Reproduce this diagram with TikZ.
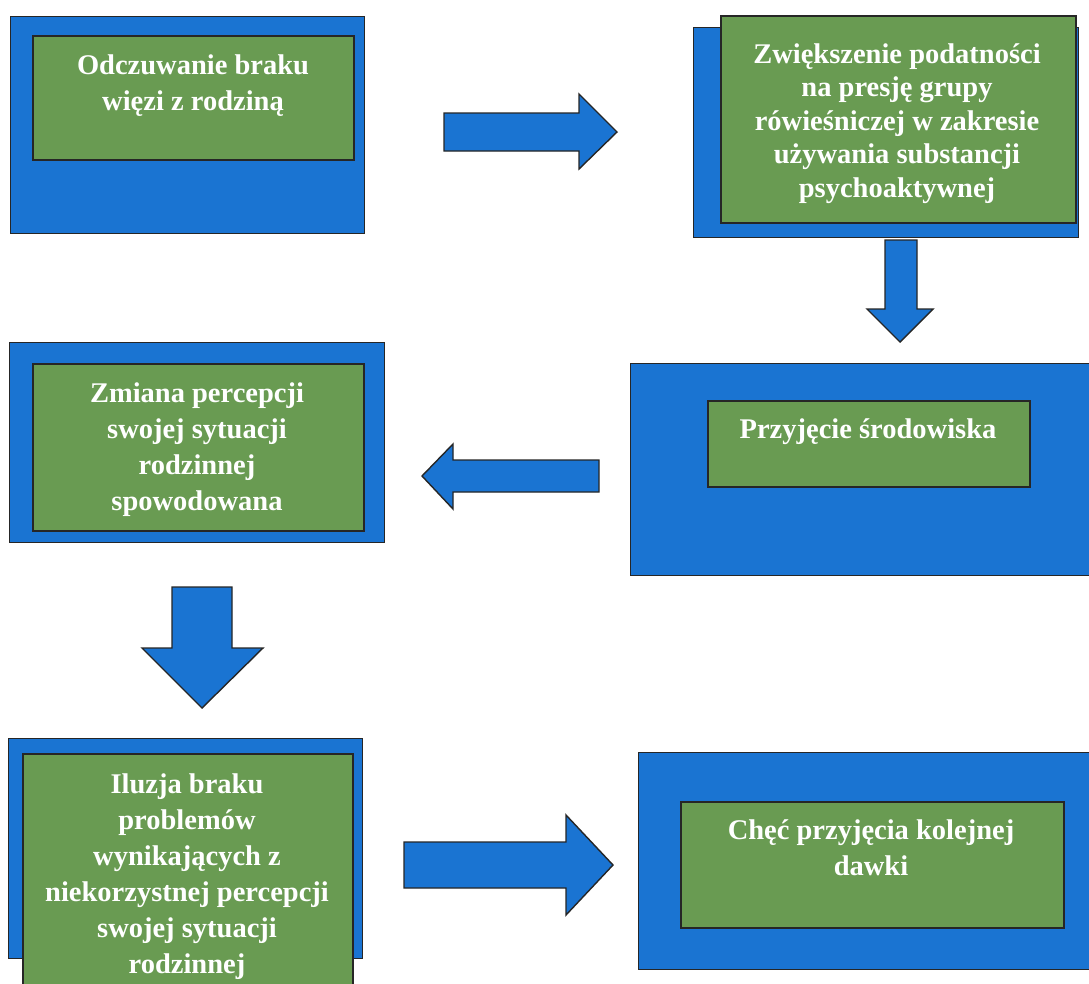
\documentclass[tikz,border=0pt]{standalone}
\usepackage{fontspec}
\setmainfont{Liberation Serif}
\definecolor{boxblue}{RGB}{26,116,210}
\definecolor{boxgreen}{RGB}{105,155,82}
\tikzset{
  outerbox/.style={draw=black!85, line width=1.4pt, fill=boxblue, inner sep=0pt, anchor=north west},
  innerbox/.style={draw=black!85, line width=1.6pt, fill=boxgreen, inner sep=0pt, anchor=north west},
  boxtext/.style={text=white, font=\bfseries\fontsize{28.5}{36}\selectfont, align=center, inner sep=0pt, anchor=base},
  blockarrow/.style={draw=black!85, line width=1.4pt, fill=boxblue, line join=miter},
}
\begin{document}
\begin{tikzpicture}[x=1pt,y=-1pt]
\useasboundingbox (0,0) rectangle (1089,983);
\clip (0,0) rectangle (1089,983);
\fill[white] (0,0) rectangle (1089,983);

% Box 1
\node[outerbox, minimum width=354pt, minimum height=217pt] (o1) at (10,16) {};
\node[innerbox, minimum width=321pt, minimum height=124pt] (i1) at (32,35) {};
\node[boxtext] (t1) at (193,110) {Odczuwanie braku\\więzi z rodziną};

% Box 2
\node[outerbox, minimum width=385pt, minimum height=210pt] (o2) at (693,27) {};
\node[innerbox, minimum width=355pt, minimum height=207pt] (i2) at (720,15) {};
\node[boxtext, font=\bfseries\fontsize{28.5}{33.5}\selectfont] (t2) at (897,197) {Zwiększenie podatności\\na presję grupy\\rówieśniczej w zakresie\\używania substancji\\psychoaktywnej};

% Box 3
\node[outerbox, minimum width=465pt, minimum height=212pt] (o3) at (630,363) {};
\node[innerbox, minimum width=322pt, minimum height=86pt] (i3) at (707,400) {};
\node[boxtext] (t3) at (868,438) {Przyjęcie środowiska};

% Box 4
\node[outerbox, minimum width=375pt, minimum height=200pt] (o4) at (9,342) {};
\node[innerbox, minimum width=331pt, minimum height=167pt] (i4) at (32,363) {};
\node[boxtext] (t4) at (197,510) {Zmiana percepcji\\swojej sytuacji\\rodzinnej\\spowodowana};

% Box 5
\node[outerbox, minimum width=354pt, minimum height=220pt] (o5) at (8,738) {};
\node[innerbox, minimum width=330pt, minimum height=242pt] (i5) at (22,753) {};
\node[boxtext] (t5) at (187,973) {Iluzja braku\\problemów\\wynikających z\\niekorzystnej percepcji\\swojej sytuacji\\rodzinnej};

% Box 6
\node[outerbox, minimum width=457pt, minimum height=217pt] (o6) at (638,752) {};
\node[innerbox, minimum width=383pt, minimum height=126pt] (i6) at (680,801) {};
\node[boxtext] (t6) at (871,875) {Chęć przyjęcia kolejnej\\dawki};

% Block arrows
\draw[blockarrow] (444,113) -- (579,113) -- (579,94) -- (617,132) -- (579,169) -- (579,151) -- (444,151) -- cycle;
\draw[blockarrow] (885,240) -- (917,240) -- (917,309) -- (933,309) -- (900,342) -- (867,309) -- (885,309) -- cycle;
\draw[blockarrow] (599,460) -- (453,460) -- (453,444) -- (422,476) -- (453,509) -- (453,492) -- (599,492) -- cycle;
\draw[blockarrow] (172,587) -- (232,587) -- (232,648) -- (263,648) -- (202,708) -- (142,648) -- (172,648) -- cycle;
\draw[blockarrow] (404,842) -- (566,842) -- (566,815) -- (613,865) -- (566,915) -- (566,888) -- (404,888) -- cycle;
\end{tikzpicture}
\end{document}
